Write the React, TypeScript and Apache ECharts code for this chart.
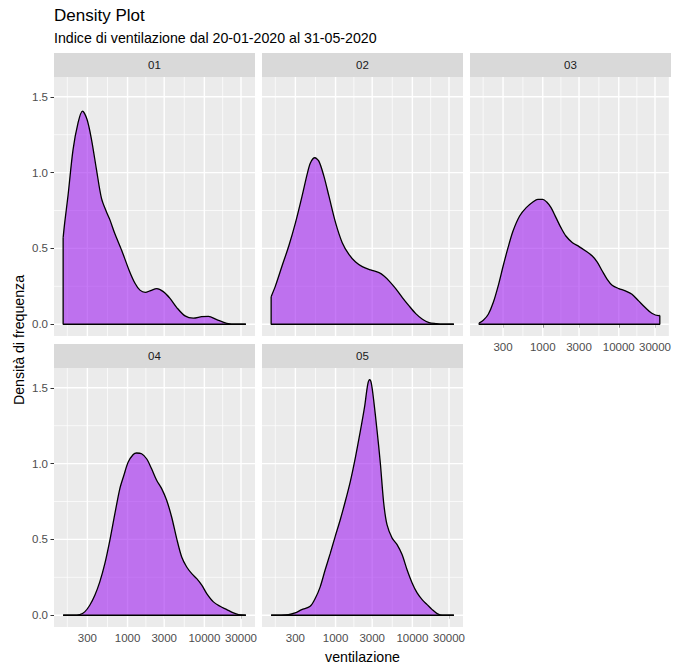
import React, { useEffect, useRef } from 'react';
import * as echarts from 'echarts';

const categories = ['01', '02', '03', '04', '05'];
const xTicks = [300, 1000, 3000, 10000, 30000];
const yTicks = [0, 0.5, 1.0, 1.5];

const x01 = [145, 152, 168, 195, 227, 259, 297, 339, 394, 458, 532, 588, 680, 835, 1050, 1250, 1450, 1700, 2000, 2400, 2920, 3570, 4370, 5600, 7190, 9250, 11300, 14500, 19600, 26500, 34700];
const y01 = [0.57, 0.67, 0.85, 1.15, 1.33, 1.406, 1.35, 1.22, 1.02, 0.83, 0.74, 0.69, 0.6, 0.49, 0.355, 0.27, 0.225, 0.21, 0.222, 0.235, 0.215, 0.17, 0.11, 0.055, 0.04, 0.05, 0.052, 0.03, 0.006, 0, 0];

const x02 = [145, 165, 201, 246, 301, 367, 427, 472, 537, 606, 705, 819, 1000, 1222, 1493, 1824, 2228, 2864, 3681, 4276, 4966, 6067, 7413, 9057, 11066, 13521, 16520, 20230, 24717, 34700];
const y02 = [0.182, 0.253, 0.384, 0.516, 0.67, 0.846, 0.99, 1.065, 1.098, 1.076, 0.977, 0.846, 0.67, 0.538, 0.461, 0.41, 0.38, 0.358, 0.34, 0.318, 0.286, 0.235, 0.176, 0.121, 0.07, 0.033, 0.011, 0.004, 0, 0];

const x03 = [145, 165, 192, 223, 259, 301, 349, 406, 496, 606, 741, 861, 1000, 1127, 1285, 1493, 1734, 2014, 2461, 3006, 3673, 4487, 5214, 6067, 7047, 8185, 10000, 12218, 14928, 18239, 22284, 27227, 33266, 34700];
const y03 = [0.007, 0.026, 0.066, 0.143, 0.253, 0.384, 0.505, 0.615, 0.714, 0.769, 0.806, 0.824, 0.824, 0.806, 0.769, 0.703, 0.637, 0.582, 0.538, 0.512, 0.483, 0.45, 0.41, 0.351, 0.296, 0.257, 0.235, 0.22, 0.198, 0.154, 0.11, 0.072, 0.057, 0.058];

const x04 = [145, 195, 239, 277, 322, 375, 435, 506, 588, 684, 794, 896, 1020, 1186, 1310, 1523, 1770, 2056, 2392, 2780, 3230, 3750, 4365, 5070, 5890, 6855, 7960, 9250, 10740, 13120, 16030, 19590, 23930, 27860, 34700];
const y04 = [0, 0, 0.004, 0.022, 0.066, 0.132, 0.22, 0.34, 0.494, 0.67, 0.835, 0.923, 1.01, 1.06, 1.07, 1.065, 1.032, 0.966, 0.89, 0.835, 0.758, 0.648, 0.505, 0.384, 0.318, 0.274, 0.241, 0.198, 0.143, 0.088, 0.059, 0.037, 0.015, 0.004, 0];

const x05 = [145, 243, 297, 363, 467, 543, 631, 733, 851, 990, 1151, 1337, 1553, 1806, 2099, 2392, 2618, 2780, 2924, 3133, 3467, 3828, 4236, 4677, 5433, 6324, 7345, 8531, 9931, 11535, 13400, 15560, 18110, 21040, 24430, 34700];
const y05 = [0, 0.004, 0.015, 0.037, 0.059, 0.11, 0.187, 0.3, 0.406, 0.52, 0.63, 0.75, 0.88, 1.037, 1.212, 1.377, 1.52, 1.553, 1.53, 1.42, 1.22, 1.004, 0.74, 0.597, 0.51, 0.466, 0.4, 0.3, 0.213, 0.147, 0.103, 0.07, 0.037, 0.011, 0, 0];

const seriesX = [x01, x02, x03, x04, x05];
const seriesY = [y01, y02, y03, y04, y05];

const FONT = '"Liberation Sans", Arial, Helvetica, sans-serif';

export default function App() {
  const ref = useRef<HTMLDivElement>(null);

  useEffect(() => {
    document.body.style.margin = '0';
    const chart = echarts.init(ref.current as HTMLDivElement, null, { renderer: 'svg' });

    const allX = seriesX.flat();
    const allY = seriesY.flat();
    const lxMin = Math.log10(Math.min(...allX));
    const lxMax = Math.log10(Math.max(...allX));
    const xPad = 0.05 * (lxMax - lxMin);
    const xMin = lxMin - xPad;
    const xMax = lxMax + xPad;
    const yDataMax = Math.max(...allY);
    const yPad = 0.05 * yDataMax;
    const yMin = -yPad;
    const yMax = yDataMax + yPad;

    const lt = xTicks.map((v) => Math.log10(v));
    const extX = [lt[0] - (lt[1] - lt[0]), ...lt, lt[lt.length - 1] + (lt[lt.length - 1] - lt[lt.length - 2])];
    const xMinor: number[] = [];
    for (let i = 0; i < extX.length - 1; i++) {
      const m = (extX[i] + extX[i + 1]) / 2;
      if (m > xMin && m < xMax) xMinor.push(m);
    }
    const extY = [yTicks[0] - 0.5, ...yTicks, yTicks[yTicks.length - 1] + 0.5];
    const yMinor: number[] = [];
    for (let i = 0; i < extY.length - 1; i++) {
      const m = (extY[i] + extY[i + 1]) / 2;
      if (m > yMin && m < yMax) yMinor.push(m);
    }

    const lefts = [54, 262, 470, 54, 262];
    const tops = [77, 77, 77, 368, 368];
    const W = 201;
    const H = 259;
    const STRIP = 24;
    const TICK_FS = 11.5;

    const grids: any[] = [];
    const xAxes: any[] = [];
    const yAxes: any[] = [];
    const series: any[] = [];
    const graphics: any[] = [];

    const gridData = [
      ...lt.map((v) => [v, 0]),
      ...xMinor.map((v) => [v, 1]),
      ...yTicks.map((v) => [v, 2]),
      ...yMinor.map((v) => [v, 3]),
    ];

    categories.forEach((cat, i) => {
      const showX = i >= 2;
      const showY = i === 0 || i === 3;
      grids.push({
        left: lefts[i], top: tops[i], width: W, height: H,
        show: true, backgroundColor: '#EBEBEB', borderWidth: 0,
      });
      xAxes.push({
        type: 'value', gridIndex: i, min: xMin, max: xMax,
        splitLine: { show: false },
        axisLine: { show: false },
        axisTick: { show: showX, length: 3.5, lineStyle: { color: '#333333', width: 1 }, customValues: lt },
        axisLabel: {
          show: showX, customValues: lt, margin: 5,
          formatter: (v: number) => String(Math.round(Math.pow(10, v))),
          color: '#4D4D4D', fontSize: TICK_FS, fontFamily: FONT,
        },
      });
      yAxes.push({
        type: 'value', gridIndex: i, min: yMin, max: yMax,
        splitLine: { show: false },
        axisLine: { show: false },
        axisTick: { show: showY, length: 3.5, lineStyle: { color: '#333333', width: 1 }, customValues: yTicks },
        axisLabel: {
          show: showY, customValues: yTicks, margin: 6,
          formatter: (v: number) => v.toFixed(1),
          color: '#4D4D4D', fontSize: TICK_FS, fontFamily: FONT,
        },
      });
      series.push({
        type: 'custom', xAxisIndex: i, yAxisIndex: i, silent: true, z: 1,
        data: gridData,
        renderItem: (params: any, api: any) => {
          const cs = params.coordSys;
          const v = api.value(0);
          const kind = api.value(1);
          if (kind < 2) {
            const x = api.coord([v, 0])[0];
            return {
              type: 'line',
              shape: { x1: x, y1: cs.y, x2: x, y2: cs.y + cs.height },
              style: { stroke: '#FFFFFF', lineWidth: kind === 0 ? 1.4 : 0.7 },
            };
          }
          const y = api.coord([xMin, v])[1];
          return {
            type: 'line',
            shape: { x1: cs.x, y1: y, x2: cs.x + cs.width, y2: y },
            style: { stroke: '#FFFFFF', lineWidth: kind === 2 ? 1.4 : 0.7 },
          };
        },
      });
      const xs = seriesX[i];
      const ys = seriesY[i];
      series.push({
        type: 'line', xAxisIndex: i, yAxisIndex: i, silent: true, z: 3,
        data: xs.map((x, j) => [Math.log10(x), ys[j]]),
        smooth: 0.3, symbol: 'none',
        lineStyle: { color: '#000000', width: 1.3 },
        areaStyle: { color: '#A020F0', opacity: 0.6 },
      });
      const n = xs.length - 1;
      series.push({
        type: 'line', xAxisIndex: i, yAxisIndex: i, silent: true, z: 4,
        data: [
          [Math.log10(xs[0]), ys[0]],
          [Math.log10(xs[0]), 0],
          [Math.log10(xs[n]), 0],
          [Math.log10(xs[n]), ys[n]],
        ],
        symbol: 'none',
        lineStyle: { color: '#000000', width: 1.3 },
      });
      graphics.push({
        type: 'rect', silent: true,
        shape: { x: lefts[i], y: tops[i] - STRIP, width: W, height: STRIP },
        style: { fill: '#D9D9D9' },
      });
      graphics.push({
        type: 'text', silent: true,
        x: lefts[i] + W / 2, y: tops[i] - STRIP / 2,
        style: { text: cat, align: 'center', verticalAlign: 'middle', fontSize: TICK_FS, fill: '#1A1A1A', fontFamily: FONT },
      });
    });

    graphics.push({
      type: 'text', silent: true, x: 54, y: 15,
      style: { text: 'Density Plot', align: 'left', verticalAlign: 'middle', fontSize: 17, fill: '#000000', fontFamily: FONT },
    });
    graphics.push({
      type: 'text', silent: true, x: 54, y: 37.5,
      style: { text: 'Indice di ventilazione dal 20-01-2020 al 31-05-2020', align: 'left', verticalAlign: 'middle', fontSize: 14.2, fill: '#000000', fontFamily: FONT },
    });
    graphics.push({
      type: 'text', silent: true, x: 362.5, y: 656.5,
      style: { text: 'ventilazione', align: 'center', verticalAlign: 'middle', fontSize: 14.2, fill: '#000000', fontFamily: FONT },
    });
    graphics.push({
      type: 'text', silent: true, x: 18.5, y: 340, rotation: Math.PI / 2,
      style: { text: 'Densità di frequenza', align: 'center', verticalAlign: 'middle', fontSize: 14.2, fill: '#000000', fontFamily: FONT },
    });

    chart.setOption({
      animation: false,
      backgroundColor: '#FFFFFF',
      textStyle: { fontFamily: FONT },
      grid: grids,
      xAxis: xAxes,
      yAxis: yAxes,
      series,
      graphic: graphics,
    });

    return () => chart.dispose();
  }, []);

  return <div ref={ref} style={{ width: 674, height: 665 }} />;
}
